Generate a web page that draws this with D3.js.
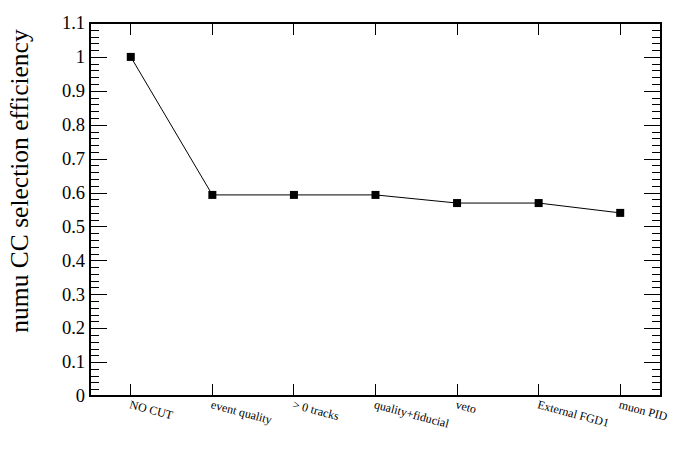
<!DOCTYPE html>
<html><head><meta charset="utf-8">
<script src="https://cdn.jsdelivr.net/npm/d3@7"></script>
</head><body style="margin:0;background:#fff">
<script>
const categories = ["NO CUT","event quality","> 0 tracks","quality+fiducial","veto","External FGD1","muon PID"];
const efficiency = [1.0, 0.593, 0.593, 0.593, 0.569, 0.569, 0.540];
const yTicks = [0,0.1,0.2,0.3,0.4,0.5,0.6,0.7,0.8,0.9,1,1.1];
const yTickLabels = ["0","0.1","0.2","0.3","0.4","0.5","0.6","0.7","0.8","0.9","1","1.1"];
const yTitle = "numu CC selection efficiency";

const W = 696, H = 472;
const m = {l:90, r:35, t:23, b:76};
const FONT = '"Liberation Serif"';
const svg = d3.select("body").append("svg").attr("width",W).attr("height",H)
  .style("display","block").style("font-family",FONT);

const x = d3.scaleBand().domain(categories).range([m.l, W-m.r]).padding(0);
const y = d3.scaleLinear().domain([0,1.1]).range([H-m.b, m.t]);
const cx = d => x(d)+x.bandwidth()/2;

const minor = d3.range(0,1.1001,0.02);
const g = svg.append("g");
function ticks(gen){ const a = g.append("g").call(gen); a.selectAll("path").remove(); a.selectAll("text").remove(); return a; }
ticks(d3.axisRight(y).tickValues(yTicks).tickSize(17)).attr("transform",`translate(${m.l},0)`);
ticks(d3.axisRight(y).tickValues(minor).tickSize(9)).attr("transform",`translate(${m.l},0)`);
ticks(d3.axisLeft(y).tickValues(yTicks).tickSize(17)).attr("transform",`translate(${W-m.r},0)`);
ticks(d3.axisLeft(y).tickValues(minor).tickSize(9)).attr("transform",`translate(${W-m.r},0)`);
ticks(d3.axisTop(x).tickSize(12)).attr("transform",`translate(0,${H-m.b})`);
ticks(d3.axisBottom(x).tickSize(12)).attr("transform",`translate(0,${m.t})`);
g.selectAll(".tick line").attr("stroke","#000").attr("stroke-width",1).attr("shape-rendering","crispEdges");

svg.append("rect").attr("x",m.l).attr("y",m.t).attr("width",W-m.r-m.l).attr("height",H-m.b-m.t)
  .attr("fill","none").attr("stroke","#000").attr("stroke-width",1.3).attr("shape-rendering","crispEdges");

svg.selectAll("text.ylab").data(yTicks).join("text").attr("class","ylab")
  .attr("x",m.l-5).attr("y",d=>y(d)).attr("dy","0.34em").attr("text-anchor","end")
  .style("font-family",FONT).attr("font-size",18.5).text((d,i)=>yTickLabels[i]);

svg.selectAll("text.xlab").data(categories).join("text").attr("class","xlab")
  .attr("transform",d=>`translate(${cx(d)-2},${H-m.b+12}) rotate(15)`)
  .style("font-family",FONT).attr("font-size",12).text(d=>d);

svg.append("text").attr("transform",`translate(28,181) rotate(-90)`)
  .attr("text-anchor","middle").style("font-family",FONT).attr("font-size",25.5).text(yTitle);

const line = d3.line().x((d,i)=>cx(categories[i])).y(d=>y(d));
svg.append("path").datum(efficiency).attr("d",line).attr("fill","none").attr("stroke","#000").attr("stroke-width",1);
svg.append("g").selectAll("rect").data(efficiency).join("rect")
  .attr("x",(d,i)=>cx(categories[i])-4).attr("y",d=>y(d)-4).attr("width",8).attr("height",8).attr("fill","#000");
</script>
</body></html>
